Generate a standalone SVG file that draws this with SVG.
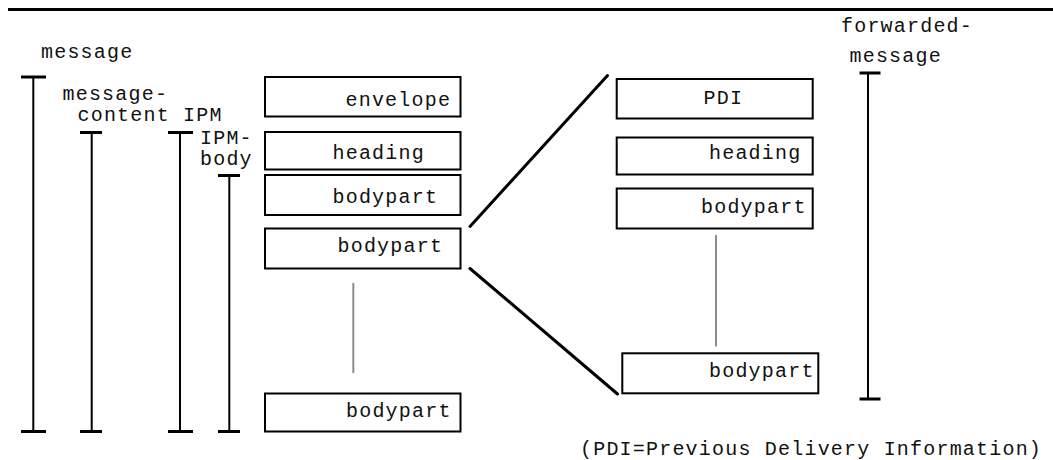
<svg xmlns="http://www.w3.org/2000/svg" width="1053" height="460" viewBox="0 0 1053 460">
<style>
text{font-family:"Liberation Mono","DejaVu Sans Mono",monospace;font-size:20px;letter-spacing:1.2px;fill:#111}
.box{fill:#fff;stroke:#000;stroke-width:2}
.br{stroke:#000;stroke-width:2;fill:none}
.tick{stroke:#000;stroke-width:3;fill:none}
.diag{stroke:#000;stroke-width:3;stroke-linecap:round;fill:none}
.gap{stroke:#8c8c8c;stroke-width:2;fill:none}
</style>
<rect width="1053" height="460" fill="#fff"/>
<line x1="8" y1="9.5" x2="1053" y2="9.5" stroke="#000" stroke-width="3"/>

<g id="bracket-message">
<text x="41" y="58">message</text>
<line class="br" x1="33.3" y1="77" x2="33.3" y2="431"/>
<line class="tick" x1="21" y1="77" x2="46" y2="77"/>
<line class="tick" x1="21" y1="431.5" x2="46" y2="431.5"/>
</g>
<g id="bracket-message-content">
<text x="62.5" y="99.5">message-</text>
<text x="77.5" y="120.5">content IPM</text>
<line class="br" x1="91.7" y1="132.5" x2="91.7" y2="431"/>
<line class="tick" x1="80" y1="132.5" x2="102" y2="132.5"/>
<line class="tick" x1="80" y1="431.5" x2="102" y2="431.5"/>
</g>
<g id="bracket-IPM">
<line class="br" x1="180" y1="132.5" x2="180" y2="431"/>
<line class="tick" x1="168" y1="132.5" x2="193" y2="132.5"/>
<line class="tick" x1="168" y1="431.5" x2="193" y2="431.5"/>
</g>
<g id="bracket-IPM-body">
<text x="200" y="143.5">IPM-</text>
<text x="200" y="164.5">body</text>
<line class="br" x1="229.3" y1="175.5" x2="229.3" y2="431"/>
<line class="tick" x1="218" y1="175.5" x2="240" y2="175.5"/>
<line class="tick" x1="218" y1="431.5" x2="240" y2="431.5"/>
</g>

<g id="envelope"><rect class="box" x="265" y="77" width="195.5" height="39.5"/><text x="345.5" y="106">envelope</text></g>
<g id="heading-l"><rect class="box" x="265" y="132" width="195.5" height="37.5"/><text x="332.5" y="159">heading</text></g>
<g id="bodypart-l1"><rect class="box" x="265" y="175" width="195.5" height="40"/><text x="332.5" y="203">bodypart</text></g>
<g id="bodypart-l2"><rect class="box" x="265" y="228.5" width="195.5" height="40"/><text x="337.5" y="251.5">bodypart</text></g>
<g id="bodypart-l3"><rect class="box" x="265" y="393.5" width="195.5" height="38"/><text x="346" y="416.5">bodypart</text></g>

<g id="pdi"><rect class="box" x="616.7" y="79" width="196" height="39.5"/><text x="703.5" y="104">PDI</text></g>
<g id="heading-r"><rect class="box" x="616.7" y="137.5" width="196" height="37"/><text x="709" y="158.5">heading</text></g>
<g id="bodypart-r1"><rect class="box" x="616.7" y="188.5" width="196" height="40"/><text x="701" y="213">bodypart</text></g>
<g id="bodypart-r2"><rect class="box" x="622.3" y="353.3" width="196" height="40"/><text x="709" y="377">bodypart</text></g>

<g id="bracket-forwarded-message">
<text x="841" y="31.5">forwarded-</text>
<text x="849.5" y="62">message</text>
<line class="br" x1="868" y1="73" x2="868" y2="399"/>
<line class="tick" x1="859.5" y1="73" x2="880.5" y2="73"/>
<line class="tick" x1="859.5" y1="399" x2="880.5" y2="399"/>
</g>

<g id="connectors">
<line class="gap" x1="353.3" y1="283" x2="353.3" y2="373"/>
<line class="gap" x1="716" y1="235" x2="716" y2="346.5"/>
<line class="diag" x1="470" y1="226.5" x2="607.5" y2="75.5"/>
<line class="diag" x1="470" y1="268.5" x2="617.5" y2="394"/>
</g>

<text x="580" y="455">(PDI=Previous Delivery Information)</text>
</svg>
